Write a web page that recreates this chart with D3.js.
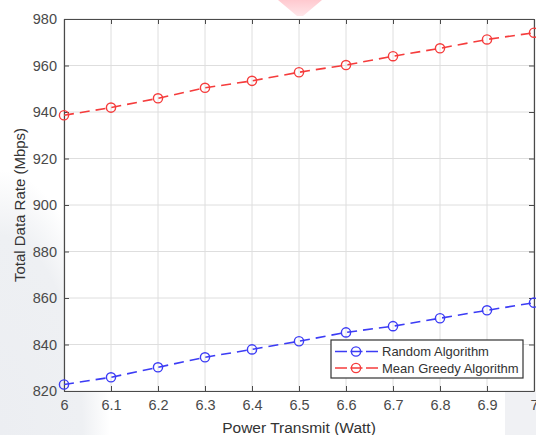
<!DOCTYPE html>
<html><head><meta charset="utf-8">
<script src="https://cdn.jsdelivr.net/npm/d3@7"></script>
<style>
html,body{margin:0;padding:0;background:#fff;}
svg{display:block;font-family:"Liberation Sans",Arial,sans-serif;}
</style></head>
<body>
<script>
const powerW = [6.0, 6.1, 6.2, 6.3, 6.4, 6.5, 6.6, 6.7, 6.8, 6.9, 7.0];
const randomAlg = [822.8, 825.9, 830.2, 834.5, 837.9, 841.4, 845.2, 847.9, 851.3, 854.7, 858.0];
const meanGreedy = [938.6, 941.9, 945.9, 950.4, 953.4, 957.1, 960.2, 964.0, 967.4, 971.2, 974.1];
const xTicks = [6, 6.1, 6.2, 6.3, 6.4, 6.5, 6.6, 6.7, 6.8, 6.9, 7];
const yTicks = [820, 840, 860, 880, 900, 920, 940, 960, 980];
const seriesNames = ["Random Algorithm", "Mean Greedy Algorithm"];
const seriesColors = ["#3c3cf5", "#f53c3c"];

const W = 536, H = 435;
const m = {left: 64, right: 534, top: 19, bottom: 391};
const svg = d3.select("body").append("svg").attr("width", W).attr("height", H);

// background shading
const defs = svg.append("defs");
const rg = defs.append("radialGradient").attr("id","shade").attr("cx","0").attr("cy","1").attr("r","1");
rg.append("stop").attr("offset","0").attr("stop-color","#eceef2");
rg.append("stop").attr("offset","0.75").attr("stop-color","#eef0f3");
rg.append("stop").attr("offset","1").attr("stop-color","#ffffff");
svg.append("rect").attr("x",0).attr("y",170).attr("width",110).attr("height",265).attr("fill","url(#shade)");
svg.append("rect").attr("x",505).attr("y",392).attr("width",31).attr("height",43).attr("fill","#f0f1f4");
const lg = defs.append("linearGradient").attr("id","wm").attr("x1","0").attr("y1","0").attr("x2","0").attr("y2","1");
lg.append("stop").attr("offset","0").attr("stop-color","#ffc9cf");
lg.append("stop").attr("offset","1").attr("stop-color","#ffe6e9");
svg.append("path").attr("d","M278,0 L322,0 L303,16 L297,16 Z").attr("fill","url(#wm)");

const x = d3.scaleLinear().domain([6, 7]).range([m.left, m.right]);
const y = d3.scaleLinear().domain([820, 980]).range([m.bottom, m.top]);

// plot area
svg.append("rect").attr("x", m.left).attr("y", m.top).attr("width", m.right - m.left).attr("height", m.bottom - m.top).attr("fill", "#fff");

// grid
const grid = svg.append("g").attr("stroke", "#dedede").attr("stroke-width", 1);
grid.selectAll("line.vx").data(xTicks).join("line")
  .attr("x1", d => x(d)).attr("x2", d => x(d)).attr("y1", m.top).attr("y2", m.bottom);
grid.selectAll("line.hy").data(yTicks).join("line")
  .attr("y1", d => y(d)).attr("y2", d => y(d)).attr("x1", m.left).attr("x2", m.right);

// axes
const axColor = "#4a4a4a";
const fmtX = d => (d === 6 || d === 7) ? d3.format("d")(d) : d3.format(".1f")(d);
const xAxis = svg.append("g").attr("transform", `translate(0,${m.bottom})`)
  .call(d3.axisBottom(x).tickValues(xTicks).tickFormat(fmtX).tickSizeInner(-5).tickSizeOuter(0).tickPadding(9));
const xTop = svg.append("g").attr("transform", `translate(0,${m.top})`)
  .call(d3.axisTop(x).tickValues(xTicks).tickFormat("").tickSizeInner(-5).tickSizeOuter(0));
const yAxis = svg.append("g").attr("transform", `translate(${m.left},0)`)
  .call(d3.axisLeft(y).tickValues(yTicks).tickSizeInner(-5).tickSizeOuter(0).tickPadding(7));
const yRight = svg.append("g").attr("transform", `translate(${m.right},0)`)
  .call(d3.axisRight(y).tickValues(yTicks).tickFormat("").tickSizeInner(-5).tickSizeOuter(0));
[xAxis, xTop, yAxis, yRight].forEach(g => {
  g.selectAll("path.domain").attr("stroke", axColor).attr("stroke-width", 1.2);
  g.selectAll(".tick line").attr("stroke", axColor).attr("stroke-width", 1);
  g.selectAll(".tick text").attr("fill", "#4a4a4a").attr("font-size", 14.5).attr("font-family", "Liberation Sans, Arial, sans-serif");
});

// series
const data = [randomAlg, meanGreedy];
const line = d3.line().x((d, i) => x(powerW[i])).y(d => y(d));
data.forEach((vals, k) => {
  svg.append("path").datum(vals).attr("d", line).attr("fill", "none")
    .attr("stroke", seriesColors[k]).attr("stroke-width", 1.6).attr("stroke-dasharray", "10,6");
  svg.append("g").selectAll("circle").data(vals).join("circle")
    .attr("cx", (d, i) => x(powerW[i])).attr("cy", d => y(d)).attr("r", 4.6)
    .attr("fill", "none").attr("stroke", seriesColors[k]).attr("stroke-width", 1.4);
});

// axis labels
svg.append("text").attr("x", (m.left + m.right) / 2).attr("y", 433).attr("text-anchor", "middle")
  .attr("font-size", 15.5).attr("fill", "#333").text("Power Transmit (Watt)");
svg.append("text").attr("transform", `translate(25,${(m.top + m.bottom) / 2}) rotate(-90)`).attr("text-anchor", "middle")
  .attr("font-size", 15).attr("fill", "#333").text("Total Data Rate (Mbps)");

// legend
const leg = svg.append("g");
leg.append("rect").attr("x", 331).attr("y", 340).attr("width", 192).attr("height", 38)
  .attr("fill", "#fff").attr("stroke", "#333").attr("stroke-width", 1.2);
seriesNames.forEach((name, k) => {
  const ly = 351.5 + k * 16.5;
  leg.append("line").attr("x1", 335).attr("x2", 378).attr("y1", ly).attr("y2", ly)
    .attr("stroke", seriesColors[k]).attr("stroke-width", 1.6).attr("stroke-dasharray", "12,3.5");
  leg.append("circle").attr("cx", 356).attr("cy", ly).attr("r", 4.6).attr("fill", "none")
    .attr("stroke", seriesColors[k]).attr("stroke-width", 1.4);
  leg.append("text").attr("x", 382).attr("y", ly + 4.5).attr("font-size", 13).attr("fill", "#333").text(name);
});
</script>
</body></html>
